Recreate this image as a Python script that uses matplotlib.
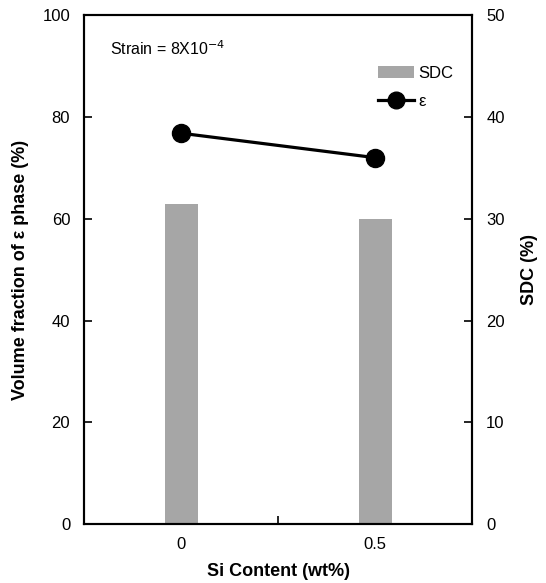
import matplotlib.pyplot as plt
import matplotlib.ticker as mticker
from matplotlib.lines import Line2D
from matplotlib.patches import Patch

plt.rcParams['font.family'] = ['Liberation Sans', 'DejaVu Sans']

si_content = ["0", "0.5"]
sdc = [31.4, 30.0]          # right axis, %
eps_fraction = [76.8, 72.0]  # left axis, %

positions = [0, 0.5]

fig = plt.figure(figsize=(5.46, 5.83), dpi=100)
ax = fig.add_axes([0.154, 0.101, 0.711, 0.873])
ax2 = ax.twinx()

ax2.bar(positions, sdc, width=0.085, color="#a6a6a6", zorder=1)
ax.plot(positions, eps_fraction, color="black", lw=2.3, marker="o",
        markersize=13, zorder=3)
ax.set_zorder(ax2.get_zorder() + 1)
ax.patch.set_visible(False)

ax.set_xlim(-0.25, 0.75)
ax.set_ylim(0, 100)
ax2.set_ylim(0, 50)

ax.set_xticks(positions)
ax.set_xticklabels(si_content)
ax.tick_params(axis="x", length=0, pad=9, labelsize=12)
ax.xaxis.set_minor_locator(mticker.FixedLocator([0.25]))
ax.tick_params(axis="x", which="minor", direction="in", length=6, width=1.2)

ax.set_yticks([0, 20, 40, 60, 80, 100])
ax.tick_params(axis="y", direction="in", length=6, width=1.2, pad=10, labelsize=12)
ax2.set_yticks([0, 10, 20, 30, 40, 50])
ax2.tick_params(axis="y", direction="in", length=6, width=1.2, pad=10, labelsize=12)

for a in (ax, ax2):
    for s in a.spines.values():
        s.set_linewidth(1.5)

ax.set_xlabel("Si Content (wt%)", fontsize=13, fontweight="bold", labelpad=8)
ax.set_ylabel("Volume fraction of ε phase (%)", fontsize=13, fontweight="bold", labelpad=10)
ax2.set_ylabel("SDC (%)", fontsize=13, fontweight="bold", labelpad=12)

ax.text(0.067, 0.935, r"Strain = 8X10$^{-4}$", transform=ax.transAxes,
        fontsize=11.5, va="center")

handles = [Patch(facecolor="#a6a6a6", edgecolor="none"),
           Line2D([], [], color="black", lw=2.3, marker="o", markersize=12)]
ax.legend(handles, ["SDC", "ε"], loc="upper right", bbox_to_anchor=(0.99, 0.93),
          frameon=False, fontsize=12, handlelength=2.2, handletextpad=0.25,
          labelspacing=0.8)

fig.savefig("out.png", dpi=100)
